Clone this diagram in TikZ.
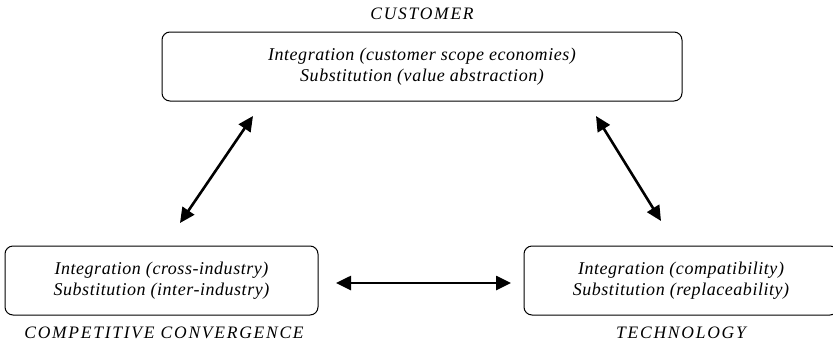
\documentclass[tikz,border=0pt]{standalone}
\usepackage{fontspec}
\setmainfont{Liberation Serif}
\newfontfamily\boxfont[LetterSpace=3]{Liberation Serif}
\newfontfamily\capfont[LetterSpace=10]{Liberation Serif}
\usetikzlibrary{arrows.meta}
\begin{document}
\begin{tikzpicture}[x=1pt,y=-1pt,
  txt/.style={font=\boxfont\itshape\fontsize{18}{21}\selectfont},
  caption/.style={font=\capfont\itshape\fontsize{17.5}{21}\selectfont},
  area/.style={draw, line width=1pt, rounded corners=8pt, align=center,
    inner sep=0pt, txt},
  link/.style={line width=2.6pt,
    {Triangle[length=15pt,width=14pt]}-{Triangle[length=15pt,width=14pt]}}]
  \useasboundingbox (0,0) rectangle (833,346);
  % the three areas of convergence
  \node[area, minimum width=520pt, minimum height=69pt] (cust) at (422,66.5)
    {Integration (customer scope economies)\\Substitution (value abstraction)};
  \node[area, minimum width=313pt, minimum height=69pt] (comp) at (161.5,280.5)
    {Integration (cross-industry)\\Substitution (inter-industry)};
  \node[area, minimum width=314pt, minimum height=69pt] (tech) at (681,280.5)
    {Integration (compatibility)\\Substitution (replaceability)};
  % captions
  \node[caption] (custlbl) at (422,14) {CUSTOMER};
  \node[caption] (complbl) at (164,333) {COMPETITIVE CONVERGENCE};
  \node[caption] (techlbl) at (681,333) {TECHNOLOGY};
  % arrow end points
  \coordinate (a1) at (180,223);
  \coordinate (a2) at (253,116);
  \coordinate (b1) at (596,116);
  \coordinate (b2) at (661,221);
  \coordinate (c1) at (336,283);
  \coordinate (c2) at (511,283);
  \draw[link] (a1) -- (a2);
  \draw[link] (b1) -- (b2);
  \draw[link] (c1) -- (c2);
\end{tikzpicture}
\end{document}
